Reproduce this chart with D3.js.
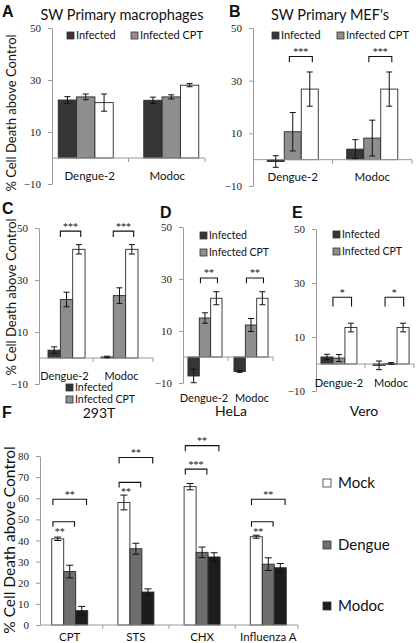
<!DOCTYPE html>
<html><head><meta charset="utf-8">
<script src="https://cdn.jsdelivr.net/npm/d3@7"></script>
<style>body{margin:0;background:#fff}svg{display:block}</style>
</head><body><svg id="c" width="416" height="643"></svg>
<script>
// ---------- data ----------
const virusCats = ["Dengue-2", "Modoc"];
const virusSeries = ["Infected", "Infected CPT", "Uninfected CPT"];
const virusLegend = ["Infected", "Infected CPT"];
const virusTicks = [-10, 10, 30, 50];

// Panel A: SW Primary macrophages
const aInfected = [22.3, 22.2], aInfectedErr = [1.3, 1.2];
const aCPT = [23.5, 23.5], aCPTErr = [1.1, 0.8];
const aUninf = [21.3, 28.0], aUninfErr = [3.3, 0.6];
// Panel B: SW Primary MEF's
const bInfected = [-0.7, 4.0], bInfectedErr = [2.2, 3.6];
const bCPT = [10.6, 8.2], bCPTErr = [7.3, 6.8];
const bUninf = [26.8, 26.8], bUninfErr = [6.5, 6.5];
const bSig = ["***", "***"];
// Panel C: 293T
const cInfected = [3.0, 0.4], cInfectedErr = [1.3, 0.3];
const cCPT = [22.5, 24.0], cCPTErr = [2.8, 3.0];
const cUninf = [41.8, 41.8], cUninfErr = [1.8, 1.8];
const cSig = ["***", "***"];
// Panel D: HeLa
const dInfected = [-7.3, -5.6], dInfectedErr = [2.6, 0.3];
const dCPT = [15.0, 12.3], dCPTErr = [2.0, 2.5];
const dUninf = [22.6, 22.6], dUninfErr = [2.5, 2.5];
const dSig = ["**", "**"];
// Panel E: Vero
const eInfected = [2.6, -0.5], eInfectedErr = [1.0, 1.6];
const eCPT = [2.2, 0.2], eCPTErr = [1.3, 0.3];
const eUninf = [13.5, 13.5], eUninfErr = [1.6, 1.6];
const eSig = ["*", "*"];

// Panel F
const fCats = ["CPT", "STS", "CHX", "Influenza A"];
const fSeries = ["Mock", "Dengue", "Modoc"];
const fMock = [40.8, 58.0, 65.5, 41.8], fMockErr = [0.8, 3.5, 1.5, 0.7];
const fDengue = [25.3, 36.1, 34.4, 28.8], fDengueErr = [3.0, 2.6, 2.5, 3.0];
const fModoc = [6.8, 15.6, 32.2, 27.1], fModocErr = [2.0, 1.5, 2.0, 2.0];
const fTicks = [0, 10, 20, 30, 40, 50, 60, 70, 80];
// significance brackets: [category, series from, series to, bracket top value, leg value, label, label below?]
const fBrackets = [
  ["CPT", "Mock", "Dengue", 48.9, 46.5, "**", true],
  ["CPT", "Mock", "Modoc", 59.5, 56.8, "**", false],
  ["STS", "Mock", "Dengue", 67.5, 65.1, "**", true],
  ["STS", "Mock", "Modoc", 79.3, 76.5, "**", false],
  ["CHX", "Mock", "Dengue", 73.8, 71.3, "***", false],
  ["CHX", "Mock", "Modoc", 84.9, 82.3, "**", false],
  ["Influenza A", "Mock", "Dengue", 48.9, 46.5, "**", true],
  ["Influenza A", "Mock", "Modoc", 59.5, 56.8, "**", false]
];

// ---------- drawing ----------
const svg = d3.select("#c");
svg.append("rect").attr("width", 416).attr("height", 643).attr("fill", "#fff");
const SANS = "Lato, 'Open Sans', sans-serif";
const SERIF = "'Liberation Serif', 'DejaVu Serif', serif";
const AXC = "#9a9a9a";
const virusColors = ["#363636", "#8e8e8e", "#ffffff"];
const fColors = ["#ffffff", "#6e6e6e", "#1d1d1d"];

function text(x, y, s, size, opts = {}) {
  return svg.append("text").attr("x", x).attr("y", y).text(s)
    .attr("font-family", opts.family || SANS).attr("font-size", size)
    .attr("font-weight", opts.weight || "normal")
    .attr("text-anchor", opts.anchor || "middle").attr("fill", opts.fill || "#111");
}

function yTitle(x, cy, size) {
  svg.append("text").attr("transform", `translate(${x},${cy}) rotate(-90)`)
    .attr("text-anchor", "middle").attr("font-family", SANS).attr("font-size", size)
    .attr("fill", "#111").text("% Cell Death above Control");
}

function panel(cfg) {
  const y = d3.scaleLinear().domain(cfg.yDomain).range(cfg.yRange);
  const x0 = d3.scaleBand().domain(cfg.cats).range(cfg.xRange)
    .paddingInner(cfg.pi).paddingOuter(cfg.po);
  const x1 = d3.scaleBand().domain(cfg.series).range([0, x0.bandwidth()]);
  const g = svg.append("g");

  // y axis
  const ax = g.append("g").attr("transform", `translate(${cfg.xRange[0]},0)`)
    .call(d3.axisLeft(y).tickValues(cfg.ticks).tickSize(4).tickSizeOuter(0).tickPadding(cfg.tickPad || 7));
  ax.select(".domain").attr("stroke", AXC);
  ax.selectAll(".tick line").attr("stroke", AXC);
  ax.selectAll(".tick text").attr("font-family", SERIF).attr("font-size", cfg.tickSize || 11).attr("fill", "#222");

  // bars
  const rows = [];
  cfg.cats.forEach((c, ci) => cfg.series.forEach((s, si) => rows.push({
    c, s, si, v: cfg.values[si][ci], e: cfg.errors[si][ci]
  })));
  g.selectAll("rect.bar").data(rows).join("rect")
    .attr("x", d => x0(d.c) + x1(d.s))
    .attr("width", x1.bandwidth())
    .attr("y", d => y(Math.max(0, d.v)))
    .attr("height", d => Math.max(0.8, Math.abs(y(d.v) - y(0))))
    .attr("fill", d => cfg.colors[d.si])
    .attr("stroke", "#2a2a2a").attr("stroke-width", 0.9);

  // zero axis line + boundary ticks
  const y0 = y(0);
  g.append("line").attr("x1", cfg.xRange[0]).attr("x2", cfg.lineEnd)
    .attr("y1", y0).attr("y2", y0).attr("stroke", AXC);
  const step = x0.step();
  const bounds = cfg.cats.slice(1).map(c => x0(c) - step * cfg.pi / 2);
  bounds.push(cfg.lineEnd);
  g.selectAll("line.bt").data(bounds).join("line")
    .attr("x1", d => d).attr("x2", d => d).attr("y1", y0).attr("y2", y0 + 4).attr("stroke", AXC);

  // error bars
  const cap = cfg.cap || 3;
  rows.forEach(d => {
    const cx = x0(d.c) + x1(d.s) + x1.bandwidth() / 2;
    g.append("line").attr("x1", cx).attr("x2", cx).attr("y1", y(d.v - d.e)).attr("y2", y(d.v + d.e)).attr("stroke", "#111");
    [d.v - d.e, d.v + d.e].forEach(v => g.append("line").attr("x1", cx - cap).attr("x2", cx + cap)
      .attr("y1", y(v)).attr("y2", y(v)).attr("stroke", "#111"));
  });

  // category labels
  cfg.cats.forEach((c, i) => text(x0(c) + x0.bandwidth() / 2 + ((cfg.labDx || [])[i] || 0), cfg.catY, c, cfg.catSize || 11.5));

  return { x0, x1, y, g };
}

function bracket(P, cat, sFrom, sTo, top, leg, label, below, fracA, fracB, starSize) {
  const bw = P.x1.bandwidth();
  const xa = P.x0(cat) + P.x1(sFrom) + bw * fracA;
  const xb = P.x0(cat) + P.x1(sTo) + bw * fracB;
  const yt = P.y(top), yl = P.y(leg);
  P.g.append("path").attr("d", `M${xa},${yl}V${yt}H${xb}V${yl}`)
    .attr("fill", "none").attr("stroke", "#111").attr("stroke-width", 1.1);
  if (below) {
    const xm = P.x0(cat) + P.x1(sFrom) + bw / 2 + 2;
    text(xm, yt + 13, label, starSize, { family: SERIF });
  } else {
    text((xa + xb) / 2, yt - 1.5, label, starSize, { family: SERIF });
  }
}

function legendSq(x, y, color, label, size) {
  svg.append("rect").attr("x", x).attr("y", y).attr("width", 7).attr("height", 7)
    .attr("fill", color).attr("stroke", "#333").attr("stroke-width", 0.8);
  text(x + 9, y + 7, label, size, { anchor: "start" });
}

// ---- Panel A ----
text(2, 17, "A", 16, { weight: "bold", anchor: "start", family: "'Liberation Sans', Arial, sans-serif" });
text(122, 20, "SW Primary macrophages", 14.5);
yTitle(16, 113, 13);
panel({
  cats: virusCats, series: virusSeries, colors: virusColors,
  values: [aInfected, aCPT, aUninf], errors: [aInfectedErr, aCPTErr, aUninfErr],
  yDomain: [-10, 50], yRange: [184, 28], ticks: virusTicks,
  xRange: [52, 205], pi: 0.357, po: 0.073, lineEnd: 205, catY: 180, labDx: [4, -4]
});
legendSq(67, 32, virusColors[0], virusLegend[0], 11);
legendSq(131, 32, virusColors[1], virusLegend[1], 11);

// ---- Panel B ----
text(229, 17, "B", 16, { weight: "bold", anchor: "start", family: "'Liberation Sans', Arial, sans-serif" });
text(330, 20, "SW Primary MEF's", 14.5);
const PB = panel({
  cats: virusCats, series: virusSeries, colors: virusColors,
  values: [bInfected, bCPT, bUninf], errors: [bInfectedErr, bCPTErr, bUninfErr],
  yDomain: [-10, 50], yRange: [186, 28], ticks: virusTicks,
  xRange: [253, 412], pi: 0.358, po: 0.179, lineEnd: 412, catY: 181
});
virusCats.forEach((c, i) => bracket(PB, c, virusSeries[1], virusSeries[2], 39.2, 37.0, bSig[i], false, 0.3, 0.65, 10));
legendSq(272, 32, virusColors[0], virusLegend[0], 11);
legendSq(337, 32, virusColors[1], virusLegend[1], 11);

// ---- Panel C ----
text(2, 214, "C", 16, { weight: "bold", anchor: "start", family: "'Liberation Sans', Arial, sans-serif" });
yTitle(16, 297, 13);
const PC = panel({
  cats: virusCats, series: virusSeries, colors: virusColors,
  values: [cInfected, cCPT, cUninf], errors: [cInfectedErr, cCPTErr, cUninfErr],
  yDomain: [-10, 50], yRange: [384, 228], ticks: virusTicks,
  xRange: [39, 147], pi: 0.30, po: 0.17, lineEnd: 153, catY: 380, catSize: 11, labDx: [-2, 2]
});
virusCats.forEach((c, i) => bracket(PC, c, virusSeries[1], virusSeries[2], 48.8, 46.5, cSig[i], false, 0.0, 0.65, 10));
legendSq(66, 384, virusColors[0], virusLegend[0], 10.5);
legendSq(66, 396, virusColors[1], virusLegend[1], 10.5);
text(99, 418, "293T", 14);

// ---- Panel D ----
text(160, 218, "D", 16, { weight: "bold", anchor: "start", family: "'Liberation Sans', Arial, sans-serif" });
const PD = panel({
  cats: virusCats, series: virusSeries, colors: virusColors,
  values: [dInfected, dCPT, dUninf], errors: [dInfectedErr, dCPTErr, dUninfErr],
  yDomain: [-10, 50], yRange: [383, 227], ticks: virusTicks,
  xRange: [183, 273], pi: 0.26, po: 0.108, lineEnd: 273, catY: 402, catSize: 11, labDx: [-1, 1]
});
virusCats.forEach((c, i) => bracket(PD, c, virusSeries[1], virusSeries[2], 30.4, 28.4, dSig[i], false, 0.1, 0.6, 10));
legendSq(200, 232, virusColors[0], virusLegend[0], 10.5);
legendSq(200, 249, virusColors[1], virusLegend[1], 10.5);
text(231, 416, "HeLa", 14);

// ---- Panel E ----
text(292, 218, "E", 16, { weight: "bold", anchor: "start", family: "'Liberation Sans', Arial, sans-serif" });
const PE = panel({
  cats: virusCats, series: virusSeries, colors: virusColors,
  values: [eInfected, eCPT, eUninf], errors: [eInfectedErr, eCPTErr, eUninfErr],
  yDomain: [-10, 50], yRange: [391, 229], ticks: virusTicks,
  xRange: [316, 414], pi: 0.31, po: 0.095, lineEnd: 414, catY: 387, catSize: 11
});
virusCats.forEach((c, i) => bracket(PE, c, virusSeries[1], virusSeries[2], 24.7, 21.3, eSig[i], false, 0.0, 0.55, 10));
legendSq(333, 231, virusColors[0], virusLegend[0], 10.5);
legendSq(333, 248, virusColors[1], virusLegend[1], 10.5);
text(364, 416, "Vero", 14);

// ---- Panel F ----
text(2, 418, "F", 16, { weight: "bold", anchor: "start", family: "'Liberation Sans', Arial, sans-serif" });
yTitle(15, 540, 15.5);
const PF = panel({
  cats: fCats, series: fSeries, colors: fColors,
  values: [fMock, fDengue, fModoc], errors: [fMockErr, fDengueErr, fModocErr],
  yDomain: [0, 80], yRange: [625, 456], ticks: fTicks,
  xRange: [40, 298], pi: 0.456, po: 0.177, lineEnd: 298, catY: 641, catSize: 11.5, cap: 3.5
});
fBrackets.forEach(b => bracket(PF, b[0], b[1], b[2], b[3], b[4], b[5], b[6], 0.1, 0.9, 10));
fSeries.forEach((s, i) => {
  const yy = [479, 541, 602][i];
  svg.append("rect").attr("x", 323).attr("y", yy).attr("width", 8).attr("height", 8)
    .attr("fill", fColors[i]).attr("stroke", "#333").attr("stroke-width", 0.8);
  text(338, yy + 9, s, 15, { anchor: "start" });
});
</script>
</body></html>
